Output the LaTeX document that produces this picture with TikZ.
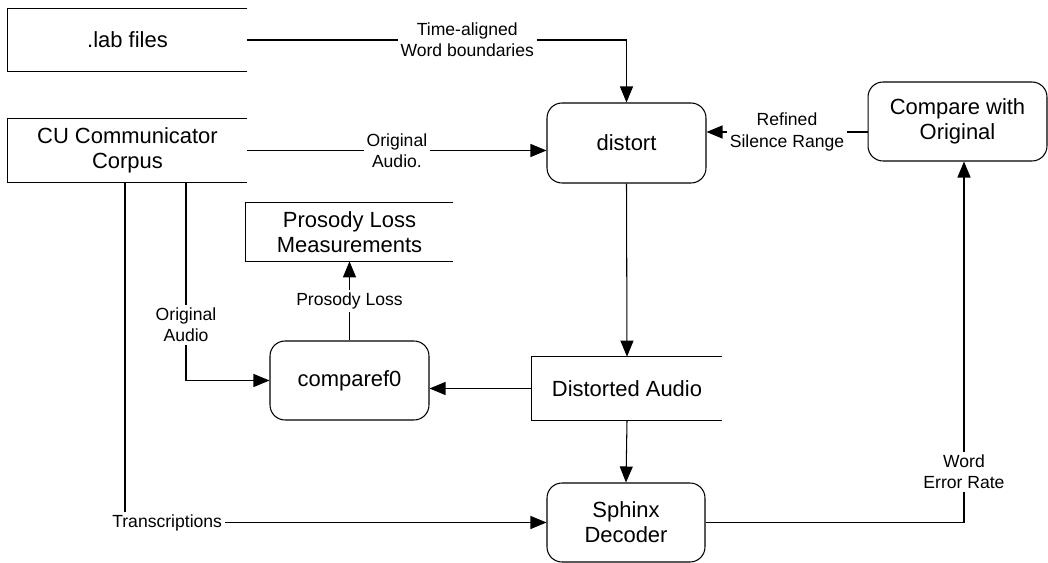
\documentclass[tikz,border=0pt]{standalone}
\usepackage{fontspec}
\setmainfont{Liberation Sans}
\usetikzlibrary{arrows.meta}

\begin{document}
\begin{tikzpicture}[x=0.02cm,y=-0.02cm,
        proc/.style={draw, line width=0.6pt, rounded corners=0.3cm, align=center,
            font=\fontsize{12.5}{14.4}\selectfont},
        store/.style={inner sep=0pt, align=center, font=\fontsize{12.5}{14.4}\selectfont},
        lbl/.style={fill=white, inner sep=1.5pt, align=center, font=\fontsize{10}{12}\selectfont},
        flow/.style={line width=0.6pt, -{Triangle[length=0.32cm,width=0.26cm]}}]
        \useasboundingbox (0,0) rectangle (1048,563);

        % data stores (open on the right)
        \node[store, minimum width=4.78cm, minimum height=1.24cm] (lab) at (127.5,40) {.lab files};
        \node[store, minimum width=4.78cm, minimum height=1.26cm] (cu) at (127.5,150.5) {CU Communicator\\Corpus};
        \node[store, minimum width=4.14cm, minimum height=1.16cm] (prosody) at (349.5,232) {Prosody Loss\\Measurements};
        \node[store, minimum width=3.8cm, minimum height=1.26cm] (distorted) at (627,388.5) {Distorted Audio};
        \foreach \s in {lab,cu,prosody,distorted}
            \draw[line width=0.6pt] (\s.north east) -- (\s.north west) -- (\s.south west) -- (\s.south east);

        % processes
        \node[proc, minimum width=3.18cm, minimum height=1.6cm] (distort) at (626.5,143) {distort};
        \node[proc, minimum width=3.18cm, minimum height=1.58cm] (comparef0) at (349.5,380.5) {comparef0};
        \node[proc, minimum width=3.16cm, minimum height=1.58cm] (sphinx) at (626,522.5) {Sphinx\\Decoder};
        \node[proc, minimum width=3.58cm, minimum height=1.58cm] (compare) at (957.5,121.5) {Compare with\\Original};

        % flows
        \draw[flow] (lab.east) -| node[lbl,pos=0.29] {Time-aligned\\Word boundaries} (distort.north);
        \draw[flow] (cu.east) -- node[lbl] {Original\\Audio.} (distort.west |- cu.east);
        \draw[flow] (compare.west |- 0,132) -- node[lbl] {Refined\\Silence Range} (distort.east |- 0,132);
        \draw[flow] (cu.south -| 186,0) |- node[lbl,pos=0.36] {Original\\Audio} (comparef0.west);
        \draw[flow] (cu.south -| 125,0) |- node[lbl,pos=0.55] {Transcriptions} (sphinx.west);
        \draw[flow] (comparef0.north) -- node[lbl] {Prosody Loss} (prosody.south);
        \draw[flow] (distort.south) -- (distorted.north);
        \draw[flow] (distorted.west) -- (comparef0.east |- distorted.west);
        \draw[flow] (distorted.south) -- (sphinx.north);
        \draw[flow] (sphinx.east) -| node[lbl,pos=0.57] {Word\\Error Rate} ([xshift=0.13cm]compare.south);
\end{tikzpicture}
\end{document}
